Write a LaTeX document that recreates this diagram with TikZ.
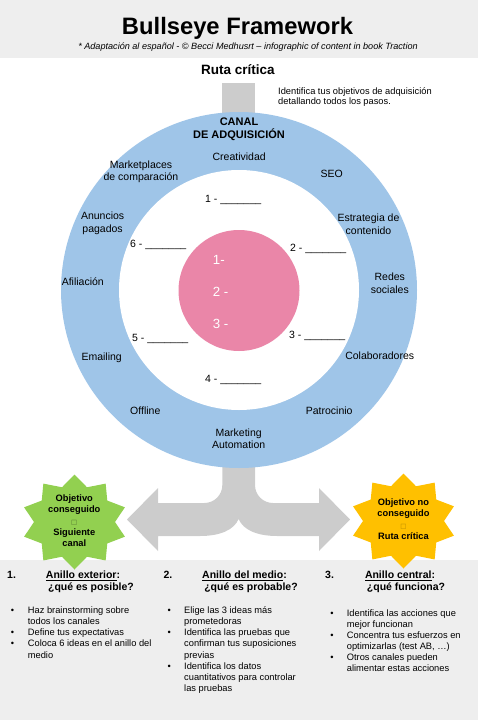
\documentclass[tikz,border=0pt]{standalone}
\usepackage{fontspec}
\setmainfont{Liberation Sans}
\newfontfamily\symfont{DejaVu Sans}
\usepackage{array}
\definecolor{headbg}{HTML}{EEEEEE}
\definecolor{ringblue}{HTML}{9FC5E8}
\definecolor{bullpink}{HTML}{EA86A8}
\definecolor{arrowgray}{HTML}{CCCCCC}
\definecolor{stargreen}{HTML}{92D050}
\definecolor{stargold}{HTML}{FFC000}
\tikzset{
  lbl/.style={font=\fontsize{10.5}{12.6}\selectfont, align=center, anchor=north, inner sep=0pt, execute at begin node=\strut},
  blank/.style={font=\fontsize{10.5}{12.6}\selectfont, anchor=base west, inner sep=0pt},
  pinktxt/.style={font=\fontsize{13.3}{16}\selectfont, text=white, anchor=base west, inner sep=0pt},
  startxt/.style={font=\fontsize{9.3}{11.4}\selectfont\bfseries, align=center, anchor=north, inner sep=0pt, execute at begin node=\strut},
  headtxt/.style={font=\fontsize{10.5}{12.6}\selectfont\bfseries, anchor=base, inner sep=0pt},
  listtxt/.style={font=\fontsize{9.3}{11.1}\selectfont, anchor=north west, inner sep=0pt},
}
\newcommand{\blankline}{\_\_\_\_\_\_\_}
\newcommand{\tofu}[1]{{\symfont\fontsize{6.5}{11.4}\selectfont\color{#1}□}}
\begin{document}
\begin{tikzpicture}[x=1pt,y=-1pt]
\useasboundingbox (0,0) rectangle (478,720);
% backgrounds
\fill[headbg] (0,0) rectangle (478,58);
\fill[headbg] (0,560) rectangle (478,720);
% header texts
\node[anchor=base, inner sep=0pt, font=\fontsize{23.75}{28}\selectfont\bfseries] (title) at (237.5,34) {Bullseye Framework};
\node[anchor=base, inner sep=0pt, font=\fontsize{9.1}{11}\selectfont\itshape] (subtitle) at (248,49.3) {* Adaptación al español - © Becci Medhusrt – infographic of content in book Traction};
\node[anchor=base, inner sep=0pt, font=\fontsize{13.5}{16}\selectfont\bfseries] (ruta) at (238,74.2) {Ruta crítica};
\node[listtxt, font=\fontsize{9.3}{10.5}\selectfont, align=left, execute at begin node=\strut] (ident) at (278,87) {Identifica tus objetivos de adquisición\\detallando todos los pasos.};
% gray connectors
\fill[arrowgray] (222.3,83.3) rectangle (255,130);
\fill[arrowgray] (222.3,450) -- (222.3,485) .. controls (222.3,495) and (214.3,503) .. (204.3,503)
  -- (158,503) -- (158,488) -- (127,519.5) -- (158,551) -- (158,536) -- (200,536)
  .. controls (220,536) and (234,530) .. (238.6,519)
  .. controls (243.2,530) and (257.2,536) .. (277.2,536)
  -- (319,536) -- (319,551) -- (350,519.5) -- (319,488) -- (319,503) -- (273,503)
  .. controls (263,503) and (255,495) .. (255,485) -- (255,450) -- cycle;
% rings
\fill[ringblue] (239,290) circle[radius=178pt];
\fill[white] (239,290) circle[radius=120pt];
\fill[bullpink] (239,290.5) circle[radius=60.5pt];
% canal
\node[lbl, font=\fontsize{11}{13.3}\selectfont\bfseries] (canal) at (239,117.4) {CANAL\\DE ADQUISICIÓN};
% outer ring labels
\node[lbl] (creat) at (239.2,151.2) {Creatividad};
\node[lbl] (seo) at (331.8,168.5) {SEO};
\node[lbl] (market) at (141,160.5) {Marketplaces\\de comparación};
\node[lbl] (anunc) at (102.6,211.9) {Anuncios\\pagados};
\node[lbl] (estrat) at (368.5,213.9) {Estrategia de\\contenido};
\node[lbl] (afil) at (82.8,276.9) {Afiliación};
\node[lbl] (redes) at (389.8,272.9) {Redes\\sociales};
\node[lbl] (email) at (101.7,351.2) {Emailing};
\node[lbl] (colab) at (379.7,350.2) {Colaboradores};
\node[lbl] (offl) at (145.3,405.2) {Offline};
\node[lbl] (patro) at (329.2,405.2) {Patrocinio};
\node[lbl] (mauto) at (238.7,428.5) {Marketing\\Automation};
% middle ring blanks
\node[blank] (b1) at (205,202.5) {1 - \blankline};
\node[blank] (b2) at (290,251.5) {2 - \blankline};
\node[blank] (b3) at (289,338.5) {3 - \blankline};
\node[blank] (b4) at (205,382.5) {4 - \blankline};
\node[blank] (b5) at (132,341.5) {5 - \blankline};
\node[blank] (b6) at (130,247.5) {6 - \blankline};
% centre
\node[pinktxt] (p1) at (212.7,264) {1-};
\node[pinktxt] (p2) at (212.7,296.7) {2 -};
\node[pinktxt] (p3) at (212.7,328.3) {3 -};
% stars
\fill[stargreen] plot[samples at={0,...,19}, variable=\k]
  ({74.5+((mod(\k,2)==0)?53:40.5)*cos(90+18*\k)}, {522-((mod(\k,2)==0)?47.5:36.5)*sin(90+18*\k)}) -- cycle;
\fill[stargold] plot[samples at={0,...,19}, variable=\k]
  ({403.5+((mod(\k,2)==0)?53:40.5)*cos(90+18*\k)}, {521-((mod(\k,2)==0)?47.5:36.5)*sin(90+18*\k)}) -- cycle;
\node[startxt] (goalok) at (74.3,494.3) {Objetivo\\conseguido\\\tofu{black!45!stargreen}\\Siguiente\\canal};
\node[startxt] (goalko) at (403.5,498.3) {Objetivo no\\conseguido\\\tofu{black!30!stargold}\\Ruta crítica};
% bottom headings
\node[headtxt, anchor=base west] (n1) at (7,578.5) {1.};
\node[headtxt, anchor=base west] (n2) at (163.3,578.5) {2.};
\node[headtxt, anchor=base west] (n3) at (325,578.5) {3.};
\node[headtxt] (h1a) at (83,578.5) {\underline{Anillo exterior}:};
\node[headtxt] (h1b) at (91,590.5) {¿qué es posible?};
\node[headtxt] (h2a) at (244.5,578.5) {\underline{Anillo del medio}:};
\node[headtxt] (h2b) at (251,590.5) {¿qué es probable?};
\node[headtxt] (h3a) at (400,578.5) {\underline{Anillo central}:};
\node[headtxt] (h3b) at (406,590.5) {¿qué funciona?};
% lists
\node[listtxt] (list1) at (10.7,605.7) {\begin{tabular}{@{}p{17pt}@{}l@{}}
•&Haz brainstorming sobre\\
&todos los canales\\
•&Define tus expectativas\\
•&Coloca 6 ideas en el anillo del\\
&medio
\end{tabular}};
\node[listtxt] (list2) at (167.3,605.7) {\begin{tabular}{@{}p{16.7pt}@{}l@{}}
•&Elige las 3 ideas más\\
&prometedoras\\
•&Identifica las pruebas que\\
&confirman tus suposiciones\\
&previas\\
•&Identifica los datos\\
&cuantitativos para controlar\\
&las pruebas
\end{tabular}};
\node[listtxt] (list3) at (330.1,608.4) {\begin{tabular}{@{}p{16.6pt}@{}l@{}}
•&Identifica las acciones que\\
&mejor funcionan\\
•&Concentra tus esfuerzos en\\
&optimizarlas (test AB, …)\\
•&Otros canales pueden\\
&alimentar estas acciones
\end{tabular}};
\end{tikzpicture}
\end{document}
